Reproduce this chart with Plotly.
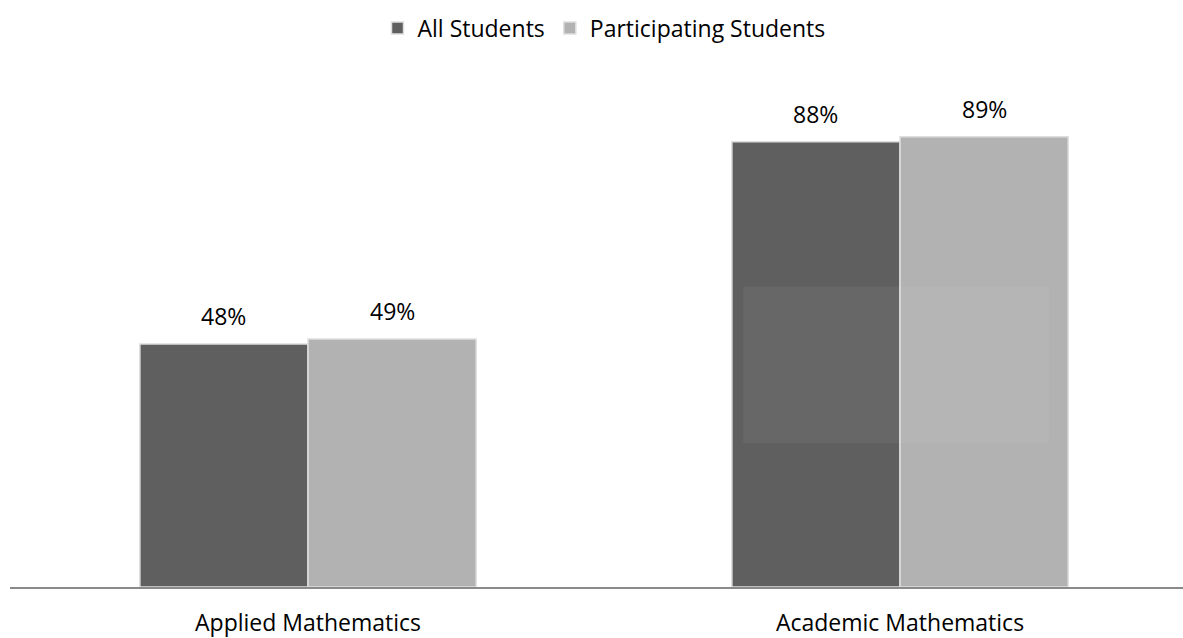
import plotly.graph_objects as go

categories = ["Applied Mathematics", "Academic Mathematics"]
all_students = [48, 88]
participating_students = [49, 89]
series_names = ["All Students", "Participating Students"]
series_colors = ["#5f5f5f", "#b2b2b2"]

FONT = "Open Sans"

fig = go.Figure()
for name, vals, color in zip(series_names, [all_students, participating_students], series_colors):
    fig.add_trace(go.Bar(
        x=categories, y=vals, name=name,
        marker=dict(color=color, line=dict(color="#dedede", width=1.5)),
    ))

# value labels above each bar
bar_shift = 84.5
for vals, sign in [(all_students, -1), (participating_students, 1)]:
    for cat, v in zip(categories, vals):
        fig.add_annotation(
            x=cat, y=v, text=f"{v}%", showarrow=False,
            xshift=sign * bar_shift, yshift=10, yanchor="bottom",
            font=dict(family=FONT, size=23, color="#000000"),
        )

# faint light panel over the right-hand group
fig.add_shape(type="rect", xref="x", yref="y",
              x0=0.735, x1=1.252, y0=28.4, y1=59.4,
              fillcolor="rgba(255,255,255,0.05)", line=dict(width=0), layer="above")

fig.update_layout(
    width=1183, height=638,
    margin=dict(l=10, r=0, t=81, b=47),
    paper_bgcolor="white", plot_bgcolor="white",
    barmode="group", bargap=0.432, bargroupgap=0.0,
    font=dict(family=FONT, size=23, color="#000000"),
    showlegend=True,
    legend=dict(orientation="h", x=0.5064, xanchor="center",
                yref="container", y=0.956, yanchor="middle",
                font=dict(family=FONT, size=23), itemwidth=30,
                bgcolor="rgba(0,0,0,0)"),
    xaxis=dict(range=[-0.5034, 1.478], showline=True, linecolor="#8a8a8a", linewidth=2,
               showgrid=False, zeroline=False, ticks="",
               tickfont=dict(family=FONT, size=23, color="#000000"),
               ticklabelstandoff=14),
    yaxis=dict(range=[0, 100], visible=False, showgrid=False, zeroline=False),
)

fig.write_html("out.html")
